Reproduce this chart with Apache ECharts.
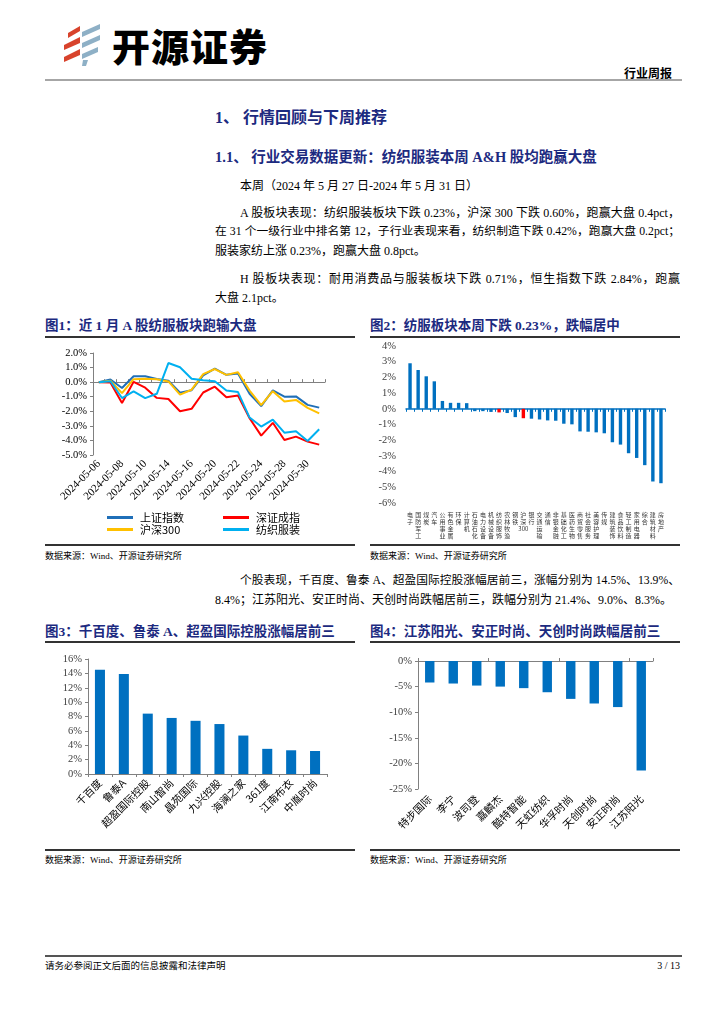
<!DOCTYPE html>
<html><head><meta charset="utf-8">
<script src="https://cdn.jsdelivr.net/npm/echarts/dist/echarts.min.js"></script>
<style>
body{margin:0;background:#fff;width:724px;height:1024px;position:relative;overflow:hidden;font-family:'Liberation Serif','Noto Sans CJK SC',serif;color:#000}
.a{position:absolute;white-space:nowrap}
.nv{color:#1c2a80;font-weight:bold}
.b{font-size:12px;line-height:14px}
.j{text-align:justify;text-align-last:justify;overflow:hidden}
.rule{position:absolute;background:#333;height:1.5px}
.src{font-size:9px;line-height:11px}
.ct{font-size:13.5px;line-height:16px}
.chart{position:absolute}
</style></head><body>
<svg class="a" style="left:58px;top:22px" width="46" height="46" viewBox="58 22 46 46">
<polygon points="68,33 80,26 80,31 68,38" fill="#d8432c"/>
<polygon points="64,45 80,37 80,43 64,50" fill="#d8432c"/>
<polygon points="64,57 80,49 80,55 64,62" fill="#d8432c"/>
<polygon points="82,32 100,24 100,29 82,37" fill="#8eb0c6"/>
<polygon points="82,43 100,35 100,40 82,48" fill="#8eb0c6"/>
<polygon points="82,54 98,47 98,52 82,59" fill="#8eb0c6"/>
<polygon points="83,60 88,60 86,66 82,66" fill="#8eb0c6"/>
</svg>
<div class="a" style="left:112px;top:25px;font-size:38px;line-height:40px;font-weight:900;font-family:'Noto Sans CJK SC';letter-spacing:1px">开源证券</div>
<div class="a" style="right:52px;top:66px;font-size:12px;line-height:14px;font-weight:bold;font-family:'Noto Sans CJK SC'">行业周报</div>
<div class="rule" style="left:45px;top:79px;width:637px;background:#a6a6a6"></div>

<div class="a nv" style="left:215px;top:109px;font-size:16px;line-height:18px">1、&nbsp;行情回顾与下周推荐</div>
<div class="a nv" style="left:215px;top:149px;font-size:14.5px;line-height:16px">1.1、&nbsp;行业交易数据更新：纺织服装本周 A&amp;H 股均跑赢大盘</div>

<div class="a b" style="left:240px;top:179px">本周（2024 年 5 月 27 日-2024 年 5 月 31 日）</div>
<div class="a b j" style="left:240px;top:206px;width:440px">A 股板块表现：纺织服装板块下跌 0.23%，沪深 300 下跌 0.60%，跑赢大盘 0.4pct，</div>
<div class="a b j" style="left:215px;top:225px;width:465px">在 31 个一级行业中排名第 12，子行业表现来看，纺织制造下跌 0.42%，跑赢大盘 0.2pct；</div>
<div class="a b" style="left:215px;top:244px">服装家纺上涨 0.23%，跑赢大盘 0.8pct。</div>
<div class="a b j" style="left:240px;top:272px;width:440px">H 股板块表现：耐用消费品与服装板块下跌 0.71%，恒生指数下跌 2.84%，跑赢</div>
<div class="a b" style="left:215px;top:291px">大盘 2.1pct。</div>

<div class="a nv ct" style="left:45px;top:318px">图1：近 1 月 A 股纺服板块跑输大盘</div>
<div class="rule" style="left:45px;top:336px;width:310px"></div>
<div class="rule" style="left:45px;top:544px;width:310px"></div>
<div class="a src" style="left:45px;top:551px">数据来源：Wind、开源证券研究所</div>
<div id="c1" class="chart" style="left:45px;top:340px;width:310px;height:200px"></div>

<div class="a nv ct" style="left:370px;top:318px">图2：纺服板块本周下跌 0.23%，跌幅居中</div>
<div class="rule" style="left:370px;top:336px;width:310px"></div>
<div class="rule" style="left:370px;top:544px;width:310px"></div>
<div class="a src" style="left:370px;top:551px">数据来源：Wind、开源证券研究所</div>
<div id="c2" class="chart" style="left:370px;top:340px;width:310px;height:203px"></div>

<div class="a b j" style="left:240px;top:574px;width:440px">个股表现，千百度、鲁泰 A、超盈国际控股涨幅居前三，涨幅分别为 14.5%、13.9%、</div>
<div class="a b" style="left:215px;top:593px">8.4%；江苏阳光、安正时尚、天创时尚跌幅居前三，跌幅分别为 21.4%、9.0%、8.3%。</div>

<div class="a nv ct" style="left:45px;top:624px">图3：千百度、鲁泰 A、超盈国际控股涨幅居前三</div>
<div class="rule" style="left:45px;top:641px;width:310px"></div>
<div class="rule" style="left:45px;top:849px;width:310px"></div>
<div class="a src" style="left:45px;top:855px">数据来源：Wind、开源证券研究所</div>
<div id="c3" class="chart" style="left:45px;top:645px;width:310px;height:203px"></div>

<div class="a nv ct" style="left:370px;top:624px">图4：江苏阳光、安正时尚、天创时尚跌幅居前三</div>
<div class="rule" style="left:370px;top:641px;width:310px"></div>
<div class="rule" style="left:370px;top:849px;width:310px"></div>
<div class="a src" style="left:370px;top:855px">数据来源：Wind、开源证券研究所</div>
<div id="c4" class="chart" style="left:370px;top:645px;width:310px;height:203px"></div>

<div class="rule" style="left:45px;top:955px;width:637px;height:2px;background:#555"></div>
<div class="a" style="left:45px;top:960px;font-size:9.5px;line-height:12px">请务必参阅正文后面的信息披露和法律声明</div>
<div class="a" style="right:44px;top:960px;font-size:10px;line-height:12px">3 / 13</div>

<script>
// ---- data ----
const dates = ['2024-05-06','2024-05-07','2024-05-08','2024-05-09','2024-05-10','2024-05-13','2024-05-14','2024-05-15','2024-05-16','2024-05-17','2024-05-20','2024-05-21','2024-05-22','2024-05-23','2024-05-24','2024-05-27','2024-05-28','2024-05-29','2024-05-30','2024-05-31'];
const shIndex = [0,0.18,-0.4,0.4,0.4,0.22,0.1,-0.72,-0.55,0.47,0.92,0.5,0.6,-0.8,-1.65,-0.57,-1.0,-0.98,-1.56,-1.75];
const szIndex = [0,-0.02,-1.43,0.02,-0.38,-1.08,-1.16,-2.0,-1.83,-0.71,-0.31,-1.03,-0.92,-2.48,-3.67,-2.79,-3.97,-3.74,-4.08,-4.29];
const hs300 = [0,0.1,-0.75,0.2,0.24,0.2,0.05,-0.86,-0.52,0.55,0.9,0.5,0.68,-0.58,-1.58,-0.62,-1.33,-1.22,-1.77,-2.15];
const textile = [0,0.06,-1.09,-0.63,-1.1,-0.8,1.31,1.02,0.23,0.13,0.06,-0.57,-0.68,-2.43,-3.05,-2.57,-3.47,-3.37,-4.04,-3.23];
const lineNames = ['上证指数','深证成指','沪深300','纺织服装'];

const industries = ['电子','国防军工','煤炭','汽车','公用事业','有色金属','环保','计算机','石油石化','电力设备','机械设备','纺织服饰','农林牧渔','钢铁','沪深300','银行','交通运输','通信','非银金融','基础化工','医药生物','商贸零售','社会服务','美容护理','传媒','建筑装饰','食品饮料','轻工制造','家用电器','综合','建筑材料','房地产'];
const industryChg = [2.9,2.47,2.07,1.75,0.5,0.38,0.38,0.36,-0.15,-0.15,-0.2,-0.23,-0.27,-0.53,-0.6,-0.63,-0.68,-0.74,-0.76,-0.95,-0.99,-1.44,-1.46,-1.5,-1.56,-2.13,-2.28,-2.83,-3.13,-3.59,-4.63,-4.74];
const highlight = ['纺织服饰','沪深300'];

const gainers = ['千百度','鲁泰A','超盈国际控股','南山智尚','晶苑国际','九兴控股','海澜之家','361度','江南布衣','中胤时尚'];
const gainerChg = [14.5,13.9,8.4,7.8,7.4,6.95,5.35,3.5,3.3,3.2];
const losers = ['特步国际','李宁','波司登','嘉麟杰','酷特智能','天虹纺织','华孚时尚','天创时尚','安正时尚','江苏阳光'];
const loserChg = [-4.2,-4.4,-4.8,-5.0,-5.3,-6.1,-7.4,-8.3,-9.0,-21.4];

// fit justified lines
document.querySelectorAll('.j').forEach(el=>{let fs=12;while(el.scrollWidth>el.clientWidth+0.5&&fs>9){fs-=0.25;el.style.fontSize=fs+'px';}});

const SERIF='Liberation Serif';
const CJK='Noto Sans CJK SC';
const BLUE='#0070c0';
const AX='#808080';

// ---- chart 1 ----
const c1 = echarts.init(document.getElementById('c1'));
const lineColors = ['#1f6fb8','#ff0000','#ffc000','#00b0f0'];
const lineData = [shIndex,szIndex,hs300,textile];
const legPos = [[62,172],[178,172],[62,184],[178,184]];
c1.setOption({
  animation:false,
  grid:{left:48,right:30,top:13,height:102},
  legend: lineNames.map((n,i)=>({data:[n],left:legPos[i][0],top:legPos[i][1],icon:'rect',itemWidth:26,itemHeight:3,itemGap:0,padding:0,
     textStyle:{fontFamily:CJK,fontSize:11,color:'#000',padding:[0,0,0,2]}})),
  xAxis:[
    {type:'category',data:dates,boundaryGap:true,axisLine:{show:false,onZero:false},axisTick:{show:false},
     axisLabel:{interval:1,rotate:45,fontSize:11,fontFamily:SERIF,color:'#000',margin:7}},
    {type:'category',data:dates,boundaryGap:true,position:'bottom',axisLine:{onZero:true,lineStyle:{color:AX,width:1}},
     axisTick:{show:true,inside:true,length:3,interval:0,lineStyle:{color:AX}},axisLabel:{show:false}}
  ],
  yAxis:{type:'value',min:-5,max:2,interval:1,splitLine:{show:false},
    axisLine:{show:true,lineStyle:{color:AX}},axisTick:{show:true,length:3,lineStyle:{color:AX}},
    axisLabel:{formatter:v=>v.toFixed(1)+'%',fontSize:10.5,fontFamily:SERIF,color:'#000',margin:6}},
  series: lineNames.map((n,i)=>({name:n,type:'line',xAxisIndex:0,data:lineData[i],symbol:'none',
     lineStyle:{width:2,color:lineColors[i]},itemStyle:{color:lineColors[i]}}))
});

// ---- chart 2 ----
const c2 = echarts.init(document.getElementById('c2'));
c2.setOption({
  animation:false,
  grid:{left:36,right:15,top:6,height:157},
  xAxis:[
    {type:'category',data:industries,axisLine:{show:false,onZero:false},axisTick:{show:false},
     axisLabel:{interval:0,margin:8,fontSize:6,lineHeight:7,fontFamily:CJK,color:'#333',
       formatter:n=>n.replace('300','Ⅲ').split('').join('\n').replace('Ⅲ','300')}},
    {type:'category',data:industries,position:'bottom',axisLine:{onZero:true,lineStyle:{color:BLUE,width:1.5}},
     axisTick:{show:true,length:3,interval:0,lineStyle:{color:BLUE}},axisLabel:{show:false}}
  ],
  yAxis:{type:'value',min:-6,max:4,interval:1,splitLine:{show:false},axisLine:{show:false},axisTick:{show:false},
    axisLabel:{formatter:v=>v+'%',fontSize:10.5,fontFamily:SERIF,color:'#404040',margin:10}},
  series:[{type:'bar',xAxisIndex:0,barWidth:'42%',
    data:industryChg.map((v,i)=>({value:v,itemStyle:{color:highlight.includes(industries[i])?'#ff0000':BLUE}}))}]
});

// ---- chart 3 ----
const c3 = echarts.init(document.getElementById('c3'));
c3.setOption({
  animation:false,
  grid:{left:43,right:28,top:14,height:115},
  xAxis:{type:'category',data:gainers,axisLine:{lineStyle:{color:AX}},axisTick:{show:true,length:3,lineStyle:{color:AX}},
    axisLabel:{interval:0,rotate:45,fontSize:10.5,fontFamily:CJK,color:'#000',margin:7}},
  yAxis:{type:'value',min:0,max:16,interval:2,splitLine:{show:false},axisLine:{show:true,lineStyle:{color:AX}},
    axisTick:{show:true,length:3,lineStyle:{color:AX}},
    axisLabel:{formatter:v=>v+'%',fontSize:10.5,fontFamily:SERIF,color:'#404040',margin:6}},
  series:[{type:'bar',data:gainerChg,barWidth:'42%',itemStyle:{color:BLUE}}]
});

// ---- chart 4 ----
const c4 = echarts.init(document.getElementById('c4'));
c4.setOption({
  animation:false,
  grid:{left:48,right:27,top:16,height:128},
  xAxis:[
    {type:'category',data:losers,position:'bottom',axisLine:{show:false,onZero:false},axisTick:{show:false},
     axisLabel:{interval:0,rotate:45,fontSize:10.5,fontFamily:CJK,color:'#000',margin:8}},
    {type:'category',data:losers,position:'top',axisLine:{onZero:false,lineStyle:{color:AX}},
     axisTick:{show:true,length:3,lineStyle:{color:AX}},axisLabel:{show:false}}
  ],
  yAxis:{type:'value',min:-25,max:0,interval:5,splitLine:{show:false},axisLine:{show:true,lineStyle:{color:AX}},
    axisTick:{show:true,length:3,lineStyle:{color:AX}},
    axisLabel:{formatter:v=>v+'%',fontSize:10.5,fontFamily:SERIF,color:'#404040',margin:6}},
  series:[{type:'bar',xAxisIndex:0,data:loserChg,barWidth:'40%',itemStyle:{color:BLUE}}]
});
</script>
</body></html>
